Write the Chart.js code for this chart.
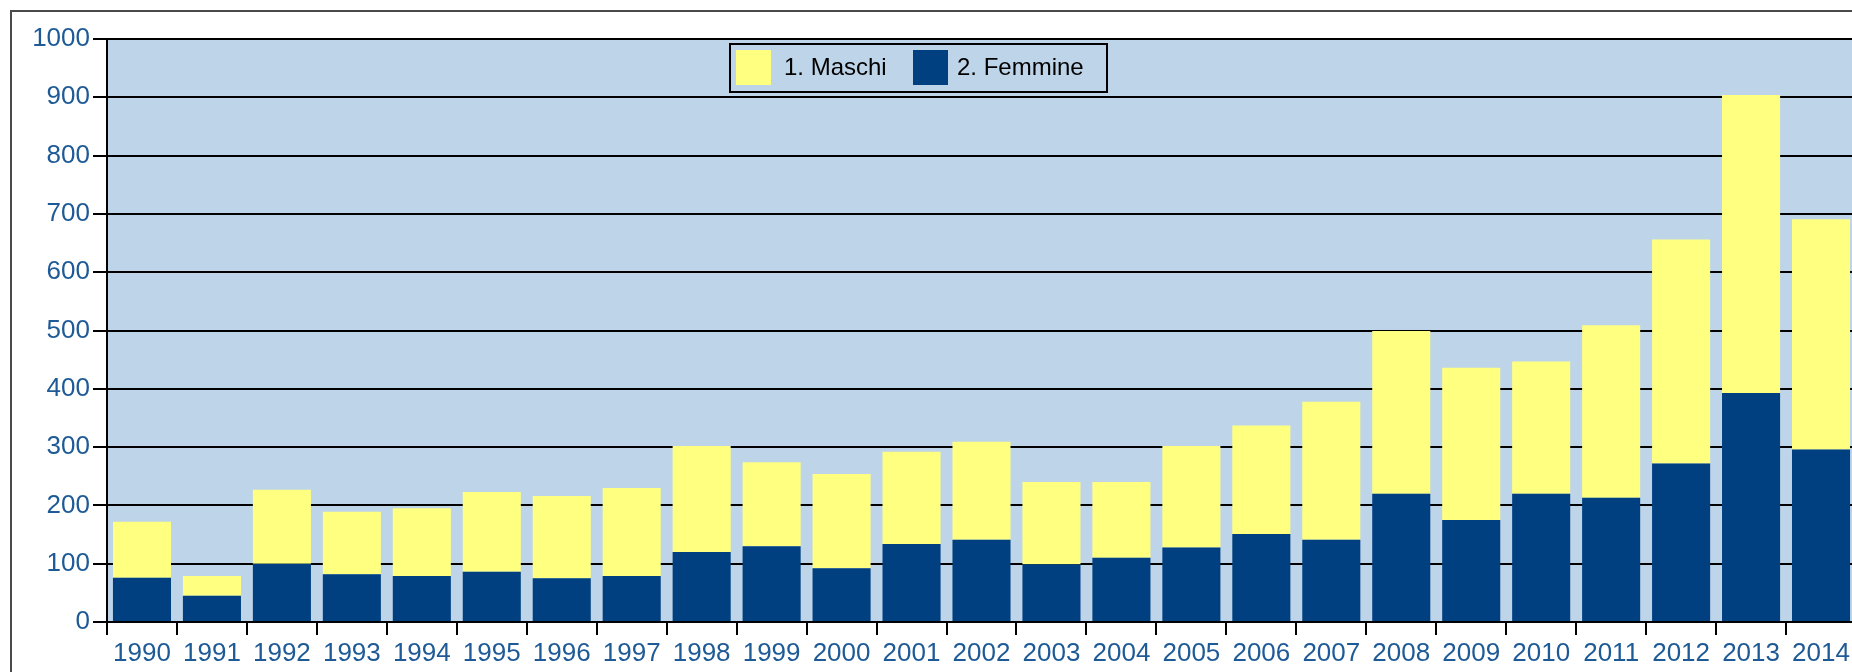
<!DOCTYPE html>
<html>
<head>
<meta charset="utf-8">
<title>Maschi / Femmine 1990-2014</title>
<script src="https://cdn.jsdelivr.net/npm/chart.js"></script>
<style>
    html, body {
        margin: 0;
        padding: 0;
        background: #ffffff;
        overflow: hidden;
        width: 1852px;
        height: 672px;
    }
    #frame {
        position: absolute;
        left: 10px;
        top: 10px;
        width: 3000px;
        height: 3000px;
        border: 2px solid #4a4a4a;
    }
    #chart {
        position: absolute;
        left: 0;
        top: 0;
    }
</style>
</head>
<body>
<div id="frame"></div>
<canvas id="chart" width="1870" height="672"></canvas>
<script>
// dati
const anni = ['1990', '1991', '1992', '1993', '1994', '1995', '1996', '1997', '1998', '1999',
    '2000', '2001', '2002', '2003', '2004', '2005', '2006', '2007', '2008', '2009',
    '2010', '2011', '2012', '2013', '2014'];
const maschi = [96, 34, 127, 107, 116, 137, 141, 151, 182, 144,
    162, 158, 168, 141, 130, 174, 186, 237, 279, 261,
    227, 296, 384, 511, 395];
const femmine = [76, 45, 100, 82, 79, 86, 75, 79, 120, 130,
    92, 134, 141, 99, 110, 128, 151, 141, 220, 175,
    220, 213, 272, 393, 296];
const yTicks = [0, 100, 200, 300, 400, 500, 600, 700, 800, 900, 1000];

const tickFont = { family: "'Liberation Sans', sans-serif", size: 26 };
const tickColor = '#1e5a96';

// sfondo dell'area del grafico
const plotBackground = {
    id: 'plotBackground',
    beforeDraw(chart) {
        const { ctx, chartArea } = chart;
        ctx.save();
        ctx.fillStyle = '#bed4e9';
        ctx.fillRect(chartArea.left, chartArea.top, chartArea.right - chartArea.left, chartArea.bottom - chartArea.top);
        ctx.restore();
    }
};

// legenda con cornice dentro l'area del grafico
const boxLegend = {
    id: 'boxLegend',
    afterDatasetsDraw(chart) {
        const { ctx, chartArea } = chart;
        const x = chartArea.left + 623;
        const y = chartArea.top + 5;
        const items = chart.data.datasets.slice().reverse();
        const slots = [
            { sw: 6, tx: 54 },
            { sw: 183, tx: 227 }
        ];
        ctx.save();
        ctx.strokeStyle = '#000000';
        ctx.lineWidth = 2;
        ctx.strokeRect(x, y, 377, 48);
        ctx.font = "24px 'Liberation Sans', sans-serif";
        ctx.textBaseline = 'middle';
        items.forEach((ds, i) => {
            ctx.fillStyle = ds.backgroundColor;
            ctx.fillRect(x + slots[i].sw, y + 6, 35, 35);
            ctx.fillStyle = '#000000';
            ctx.fillText(ds.label, x + slots[i].tx, y + 24);
        });
        ctx.restore();
    }
};

const canvas = document.getElementById('chart');
const chart = new Chart(canvas, {
    type: 'bar',
    data: {
        labels: anni,
        datasets: [{
            label: '2. Femmine',
            data: femmine,
            backgroundColor: '#004080',
            borderWidth: 0
        }, {
            label: '1. Maschi',
            data: maschi,
            backgroundColor: '#ffff80',
            borderWidth: 0
        }]
    },
    options: {
        responsive: false,
        animation: false,
        devicePixelRatio: 1,
        layout: {
            padding: { top: 39, right: 14, bottom: 0, left: 0 }
        },
        datasets: {
            bar: {
                categoryPercentage: 1.0,
                barPercentage: 0.83
            }
        },
        plugins: {
            legend: { display: false },
            tooltip: { enabled: false }
        },
        scales: {
            x: {
                stacked: true,
                grid: {
                    offset: true,
                    drawOnChartArea: false,
                    drawTicks: true,
                    tickLength: 13,
                    color: '#000000',
                    lineWidth: 2
                },
                border: { display: true, color: '#000000', width: 2 },
                ticks: {
                    font: tickFont,
                    color: tickColor,
                    padding: 3,
                    maxRotation: 0,
                    autoSkip: false
                },
                afterFit(scale) {
                    scale.height = 50;
                }
            },
            y: {
                stacked: true,
                min: 0,
                max: 1000,
                afterBuildTicks(scale) {
                    scale.ticks = yTicks.map(v => ({ value: v }));
                },
                grid: {
                    color: '#000000',
                    lineWidth: 2,
                    tickLength: 14,
                    drawTicks: true
                },
                border: { display: true, color: '#000000', width: 2 },
                ticks: {
                    font: tickFont,
                    color: tickColor,
                    padding: 3,
                    callback: v => String(v)
                },
                afterFit(scale) {
                    scale.width = 107;
                }
            }
        }
    },
    plugins: [plotBackground, boxLegend]
});
</script>
</body>
</html>
